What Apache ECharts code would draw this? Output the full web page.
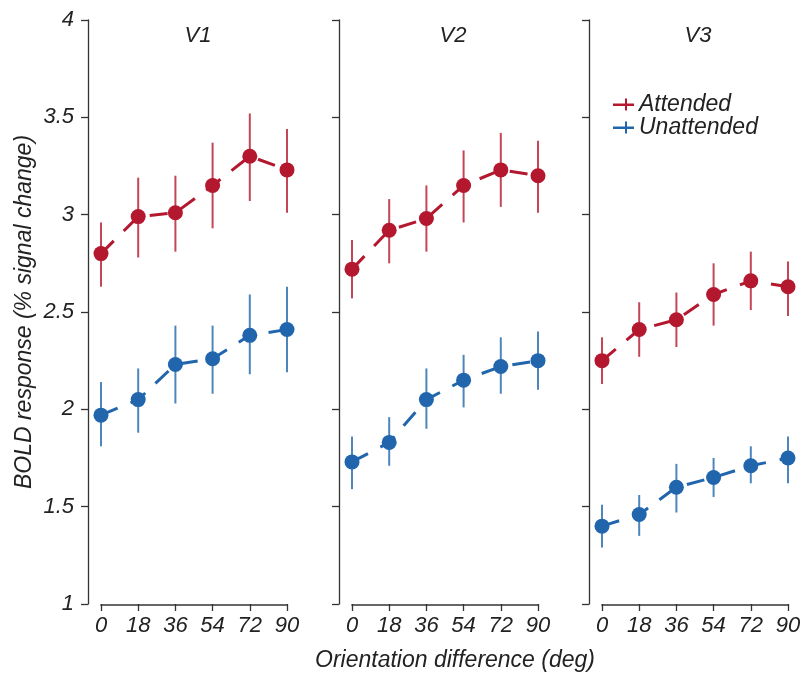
<!DOCTYPE html>
<html>
<head>
<meta charset="utf-8">
<script src="https://cdn.jsdelivr.net/npm/echarts@6/dist/echarts.min.js"></script>
<style>html,body{margin:0;padding:0;background:#fff;}#c{width:805px;height:679px;}</style>
</head>
<body>
<div id="c"></div>
<script>
const categories = [0, 18, 36, 54, 72, 90];
const regions = ['V1', 'V2', 'V3'];
const yTicks = [1, 1.5, 2, 2.5, 3, 3.5, 4];

const v1Att   = [2.80, 2.99, 3.01, 3.15, 3.30, 3.23];
const v1AttLo = [2.63, 2.78, 2.81, 2.93, 3.07, 3.01];
const v1AttHi = [2.96, 3.19, 3.20, 3.37, 3.52, 3.44];
const v1Un    = [1.97, 2.05, 2.23, 2.26, 2.38, 2.41];
const v1UnLo  = [1.81, 1.88, 2.03, 2.08, 2.18, 2.19];
const v1UnHi  = [2.14, 2.21, 2.43, 2.43, 2.59, 2.63];

const v2Att   = [2.72, 2.92, 2.98, 3.15, 3.23, 3.20];
const v2AttLo = [2.57, 2.75, 2.81, 2.96, 3.04, 3.01];
const v2AttHi = [2.87, 3.08, 3.15, 3.33, 3.42, 3.38];
const v2Un    = [1.73, 1.83, 2.05, 2.15, 2.22, 2.25];
const v2UnLo  = [1.59, 1.71, 1.90, 2.01, 2.08, 2.10];
const v2UnHi  = [1.86, 1.96, 2.21, 2.28, 2.37, 2.40];

const v3Att   = [2.25, 2.41, 2.46, 2.59, 2.66, 2.63];
const v3AttLo = [2.13, 2.27, 2.32, 2.43, 2.51, 2.48];
const v3AttHi = [2.37, 2.55, 2.60, 2.75, 2.81, 2.76];
const v3Un    = [1.40, 1.46, 1.60, 1.65, 1.71, 1.75];
const v3UnLo  = [1.29, 1.35, 1.47, 1.55, 1.62, 1.62];
const v3UnHi  = [1.51, 1.56, 1.72, 1.75, 1.81, 1.86];

const RED = '#b3182e';
const BLUE = '#2166ac';
const FONT = 'Liberation Sans';
const AX = '#333';
const X_MIN = -6.29;   // leaves a gap between the y axis line and the first category

const panels = [
  {att: v1Att, attLo: v1AttLo, attHi: v1AttHi, un: v1Un, unLo: v1UnLo, unHi: v1UnHi},
  {att: v2Att, attLo: v2AttLo, attHi: v2AttHi, un: v2Un, unLo: v2UnLo, unHi: v2UnHi},
  {att: v3Att, attLo: v3AttLo, attHi: v3AttHi, un: v3Un, unLo: v3UnLo, unHi: v3UnHi}
];
const gridLefts = [88, 339, 589];
const titleX = [198, 453, 698];

const grids = [], xAxes = [], yAxes = [], series = [], graphics = [];

function errSeries(i, name, lo, hi, color) {
  return {
    type: 'custom', name: name, xAxisIndex: i, yAxisIndex: i, clip: false, z: 2,
    data: categories.map((c, k) => [c, lo[k], hi[k]]),
    encode: {x: 0, y: [1, 2]},
    renderItem: function (params, api) {
      const p1 = api.coord([api.value(0), api.value(1)]);
      const p2 = api.coord([api.value(0), api.value(2)]);
      return {type: 'line', shape: {x1: p1[0], y1: p1[1], x2: p2[0], y2: p2[1]},
        style: {stroke: color, lineWidth: 2, opacity: 0.8}};
    }
  };
}
function lineSeries(i, name, vals, color) {
  return {
    type: 'line', name: name, xAxisIndex: i, yAxisIndex: i, clip: false, z: 3,
    data: categories.map((c, k) => [c, vals[k]]),
    symbol: 'circle', symbolSize: 15,
    itemStyle: {color: color},
    lineStyle: {color: color, width: 3, type: [18, 14]},
    emphasis: {disabled: true}
  };
}
function xLineSeries(i) {
  // x axis spine spanning only the first to last category
  return {
    type: 'custom', name: 'xspine' + i, xAxisIndex: i, yAxisIndex: i, clip: false, z: 1,
    data: [[categories[0], categories[categories.length - 1], yTicks[0]]],
    encode: {x: [0, 1], y: 2},
    silent: true,
    renderItem: function (params, api) {
      const a = api.coord([api.value(0), api.value(2)]);
      const b = api.coord([api.value(1), api.value(2)]);
      return {type: 'line', shape: {x1: a[0] - 0.65, y1: a[1] + 1, x2: b[0] + 0.65, y2: b[1] + 1},
        style: {stroke: AX, lineWidth: 1.3}};
    }
  };
}

panels.forEach((p, i) => {
  grids.push({left: gridLefts[i], top: 20, width: 199, height: 584});
  xAxes.push({
    type: 'value', gridIndex: i, min: X_MIN, max: 90,
    axisLine: {show: false, onZero: false},
    axisTick: {show: true, length: 7, customValues: categories, lineStyle: {color: AX, width: 1.3}},
    axisLabel: {show: true, margin: 11, customValues: categories, color: '#222', fontSize: 22, fontStyle: 'italic', fontFamily: FONT},
    splitLine: {show: false}
  });
  yAxes.push({
    type: 'value', gridIndex: i, min: 1, max: 4, interval: 0.5,
    axisLine: {show: true, onZero: false, lineStyle: {color: AX, width: 1.3}},
    axisTick: {show: true, length: 7, inside: false, lineStyle: {color: AX, width: 1.3}},
    axisLabel: {show: i === 0, margin: 14, color: '#222', fontSize: 22, fontStyle: 'italic', fontFamily: FONT},
    splitLine: {show: false}
  });
  series.push(xLineSeries(i));
  series.push(errSeries(i, 'errA' + i, p.attLo, p.attHi, RED));
  series.push(errSeries(i, 'errU' + i, p.unLo, p.unHi, BLUE));
  series.push(lineSeries(i, 'Attended', p.att, RED));
  series.push(lineSeries(i, 'Unattended', p.un, BLUE));
  graphics.push({type: 'text', x: titleX[i], y: 36,
    style: {text: regions[i], fill: '#222', font: 'italic 22px "' + FONT + '"', textAlign: 'center', textVerticalAlign: 'middle'}});
});

graphics.push({type: 'text', x: 455, y: 661,
  style: {text: 'Orientation difference (deg)', fill: '#222', font: 'italic 23px "' + FONT + '"', textAlign: 'center', textVerticalAlign: 'middle'}});
graphics.push({type: 'text', x: 25, y: 312, rotation: Math.PI / 2,
  style: {text: 'BOLD response (% signal change)', fill: '#222', font: 'italic 23px "' + FONT + '"', textAlign: 'center', textVerticalAlign: 'middle'}});

const chart = echarts.init(document.getElementById('c'), null, {renderer: 'canvas'});
chart.setOption({
  animation: false,
  backgroundColor: '#fff',
  grid: grids,
  xAxis: xAxes,
  yAxis: yAxes,
  legend: {
    data: ['Attended', 'Unattended'],
    orient: 'vertical', left: 608, top: 88,
    itemWidth: 21, itemHeight: 12, itemGap: 0,
    icon: 'path://M0,5 L21,5 L21,7.5 L0,7.5 Z M12,0 L14,0 L14,12 L12,12 Z',
    textStyle: {color: '#222', fontSize: 23, fontStyle: 'italic', fontFamily: FONT, lineHeight: 22},
    selectedMode: false
  },
  graphic: graphics,
  series: series
});
</script>
</body>
</html>
